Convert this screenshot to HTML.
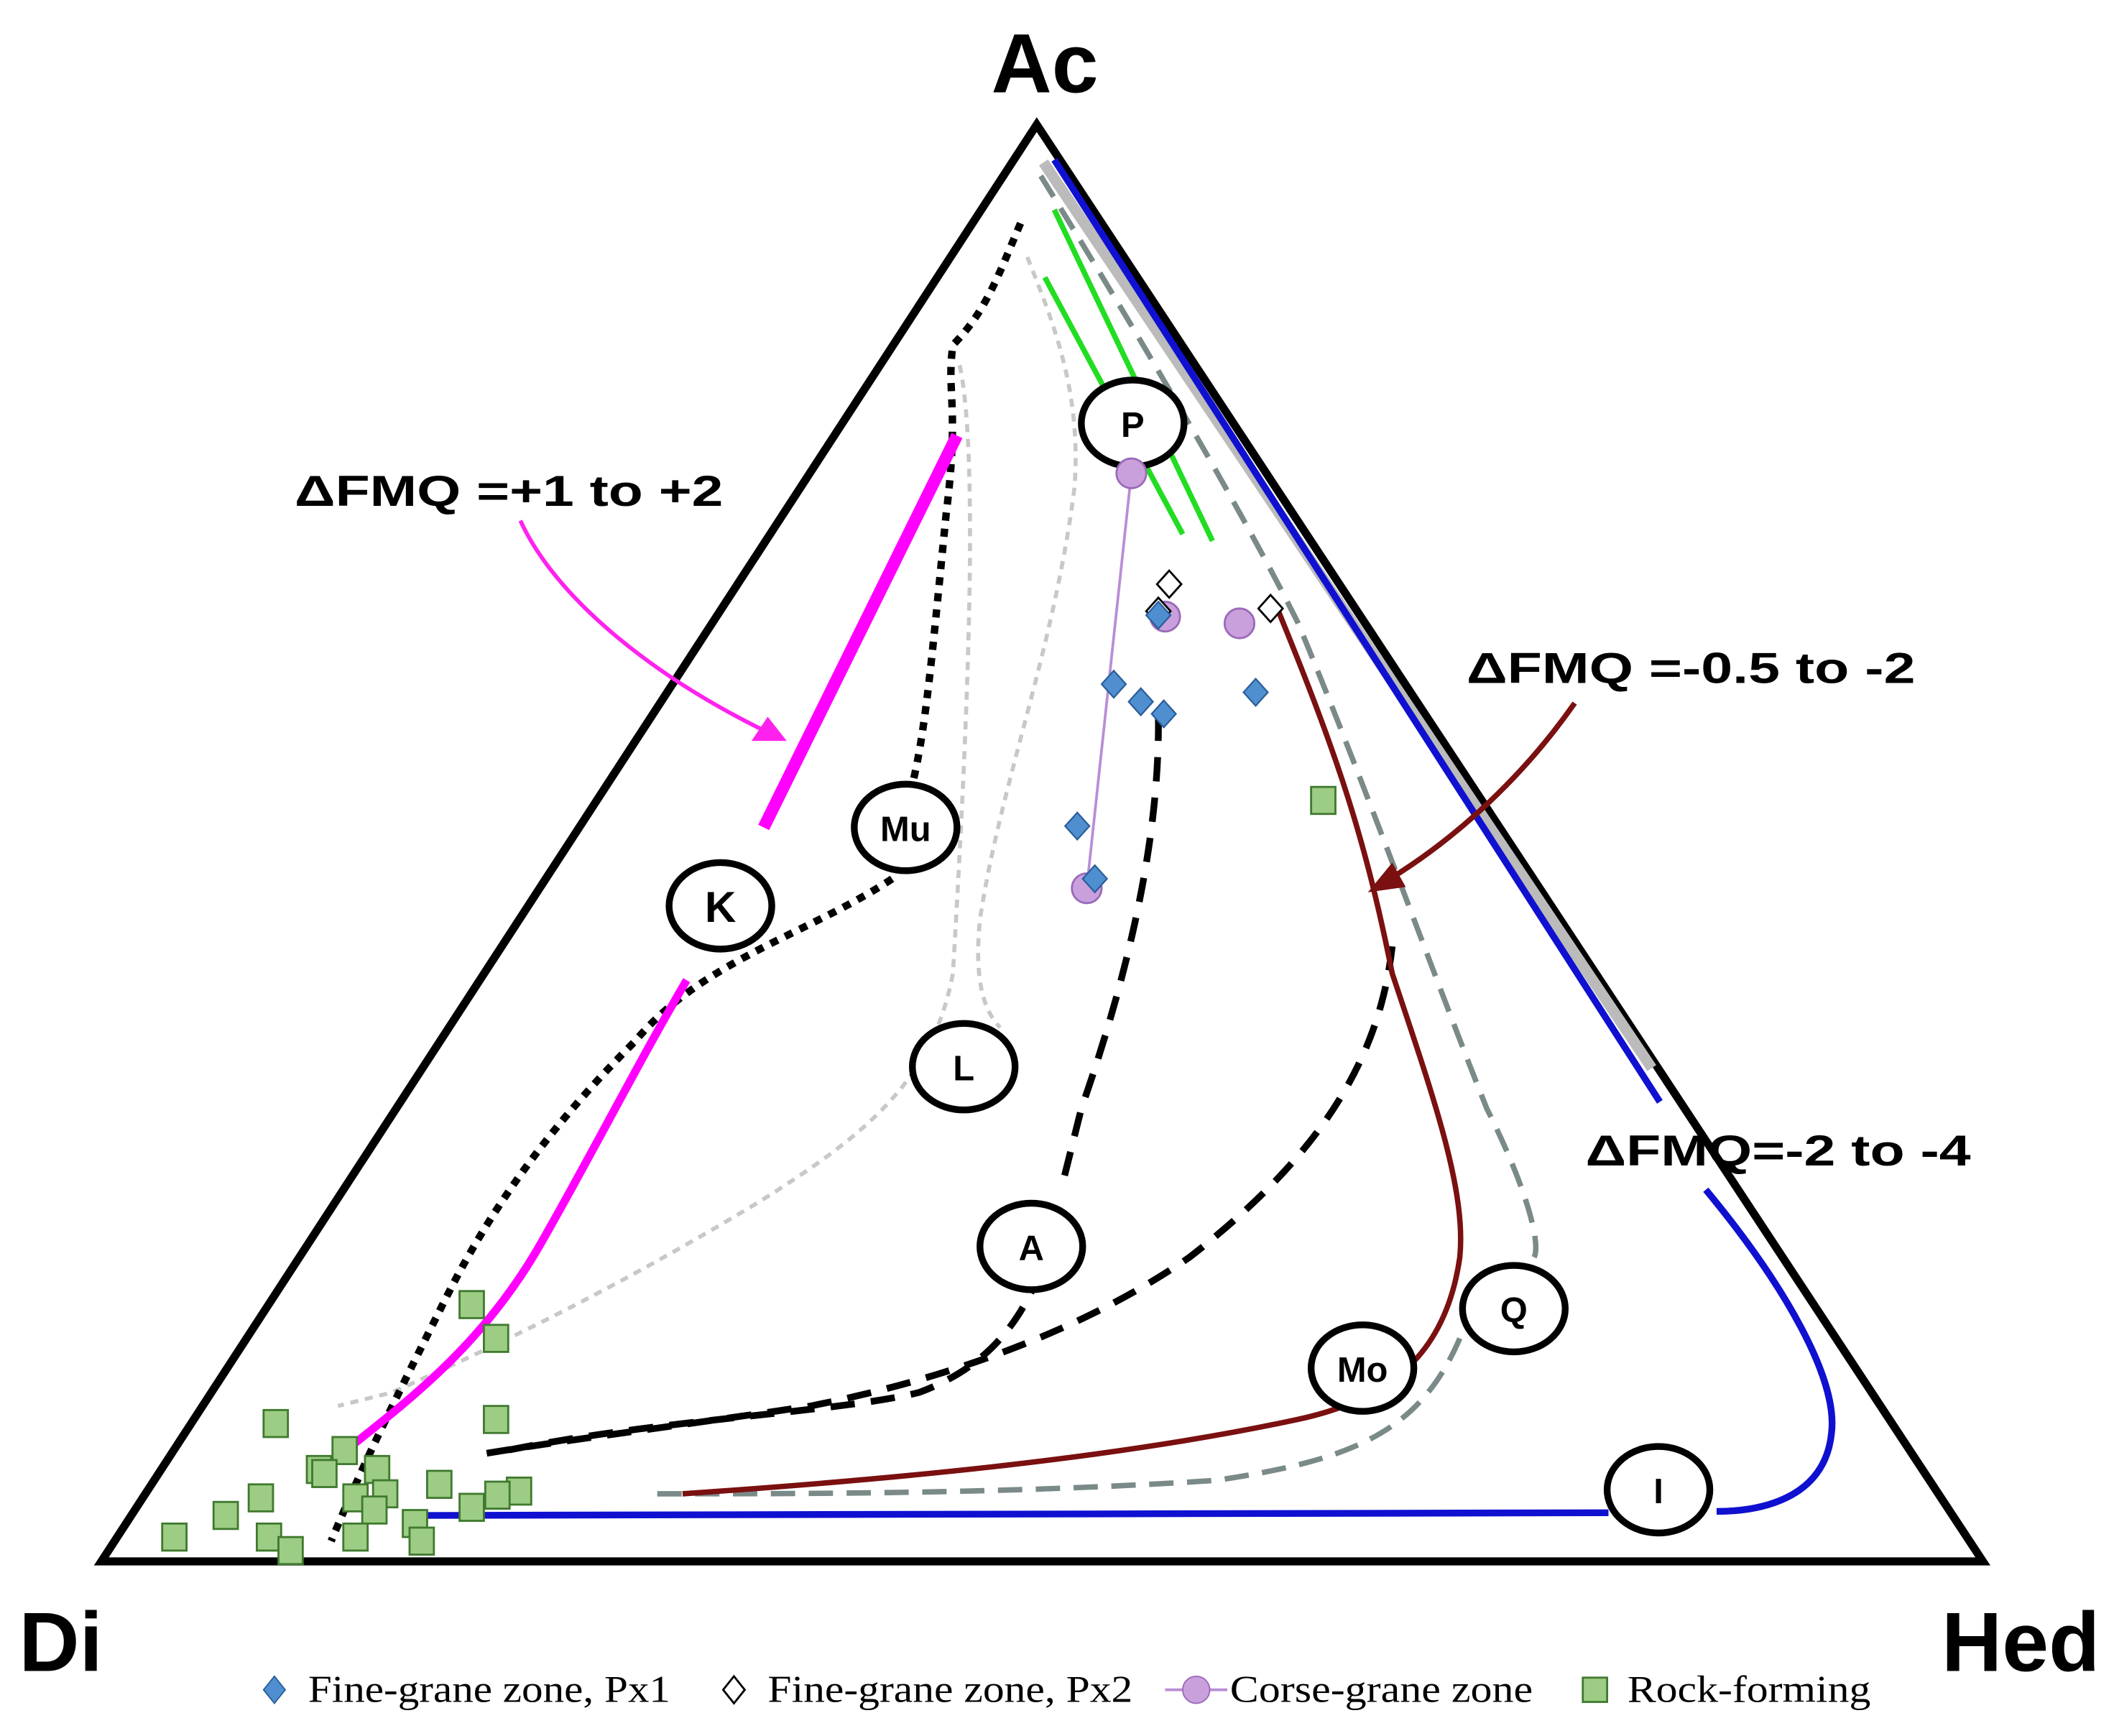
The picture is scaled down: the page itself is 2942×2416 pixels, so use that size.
<!DOCTYPE html>
<html><head><meta charset="utf-8"><style>html,body{margin:0;padding:0;background:#fff}svg{display:block}</style></head>
<body>
<svg width="2942" height="2416" viewBox="0 0 1564 1284" xmlns="http://www.w3.org/2000/svg">
<rect width="1564" height="1284" fill="#fff"/>
<g font-family="Liberation Sans, sans-serif" font-weight="bold" fill="#000">
<text x="773" y="68" font-size="62" text-anchor="middle">Ac</text>
<text x="45" y="1236" font-size="62" text-anchor="middle">Di</text>
<text x="1495" y="1236" font-size="62" text-anchor="middle">Hed</text>
<text x="218" y="374" font-size="32" textLength="317" lengthAdjust="spacingAndGlyphs">ΔFMQ =+1 to +2</text>
<text x="1085" y="505" font-size="32" textLength="332" lengthAdjust="spacingAndGlyphs">ΔFMQ =-0.5 to -2</text>
<text x="1173" y="862" font-size="32" textLength="285" lengthAdjust="spacingAndGlyphs">ΔFMQ=-2 to -4</text>
</g>
<polygon points="767,92 75,1155 1467,1155" fill="none" stroke="#000" stroke-width="6" stroke-linejoin="miter"/>
<line x1="772" y1="120" x2="1222" y2="790" stroke="#bbb" stroke-width="8"/>
<line x1="780" y1="118" x2="1228" y2="815" stroke="#1010d0" stroke-width="5"/>
<path d="M1262,880 C1320,950 1360,1020 1355,1060 C1350,1110 1300,1118 1270,1118" fill="none" stroke="#1010d0" stroke-width="5"/>
<line x1="1190" y1="1119" x2="310" y2="1121" stroke="#1010d0" stroke-width="5"/>
<line x1="780" y1="155" x2="897" y2="400" stroke="#22dd22" stroke-width="4"/>
<line x1="773" y1="205" x2="875" y2="395" stroke="#22dd22" stroke-width="4"/>
<path d="M770,130 C850,260 920,380 960,460 C1010,580 1060,720 1100,820 C1130,880 1140,920 1135,930 M1080,990 C1050,1060 1000,1080 900,1095 C750,1105 600,1105 480,1105" fill="none" stroke="#7a8a88" stroke-width="4" stroke-dasharray="18,10"/>
<path d="M760,190 C780,240 800,290 795,360 C780,480 740,580 725,680 C720,730 730,750 740,760" fill="none" stroke="#c8c8c8" stroke-width="3" stroke-dasharray="6,5"/>
<path d="M710,270 C725,340 715,550 705,720 C690,800 640,840 560,890 C460,950 380,990 290,1030 L250,1040" fill="none" stroke="#c8c8c8" stroke-width="3" stroke-dasharray="6,5"/>
<path d="M755,165 C740,200 730,230 705,255 C700,290 710,300 700,380 C690,480 685,540 675,580 M660,650 C600,690 520,710 470,770 C420,820 370,880 330,960 C290,1040 270,1080 245,1140" fill="none" stroke="#000" stroke-width="5.5" stroke-dasharray="6,6"/>
<line x1="708" y1="322" x2="565" y2="612" stroke="#ff00ff" stroke-width="9"/>
<path d="M508,725 C470,790 440,850 400,920 C360,990 310,1030 262,1068" fill="none" stroke="#ff00ff" stroke-width="6"/>
<path d="M385,385 C410,440 480,500 575,545" fill="none" stroke="#ff22ee" stroke-width="3"/>
<polygon points="582,548 556,548 568,530" fill="#ff22ee"/>
<path d="M857,530 C858,620 835,720 800,820 L785,880 M770,940 C750,990 720,1015 680,1030 C620,1045 480,1050 365,1075" fill="none" stroke="#000" stroke-width="5" stroke-dasharray="18,12"/>
<path d="M1030,700 C1020,790 970,860 880,930 C800,985 700,1020 600,1040 C500,1055 420,1065 360,1075" fill="none" stroke="#000" stroke-width="5" stroke-dasharray="18,12"/>
<path d="M945,450 C990,560 1010,620 1030,720 C1060,810 1085,880 1080,930 C1070,1000 1030,1035 960,1050 C820,1080 650,1095 505,1105" fill="none" stroke="#7a1010" stroke-width="4"/>
<path d="M1165,520 C1130,570 1080,620 1020,655" fill="none" stroke="#7a1010" stroke-width="4"/>
<polygon points="1012,660 1030,638 1040,656" fill="#7a1010"/>
<g fill="#fff" stroke="#000" stroke-width="5">
<ellipse cx="838" cy="313" rx="38" ry="32"/><ellipse cx="670" cy="612" rx="38" ry="32"/>
<ellipse cx="533" cy="670" rx="38" ry="32"/><ellipse cx="713" cy="789" rx="38" ry="32"/>
<ellipse cx="763" cy="922" rx="38" ry="32"/><ellipse cx="1120" cy="968" rx="38" ry="32"/>
<ellipse cx="1008" cy="1012" rx="38" ry="32"/><ellipse cx="1227" cy="1102" rx="38" ry="32"/>
</g>
<g font-family="Liberation Sans, sans-serif" font-weight="bold" font-size="26" text-anchor="middle" fill="#000">
<text x="838" y="323">P</text><text x="670" y="622">Mu</text><text x="533" y="682" font-size="32">K</text>
<text x="713" y="799">L</text><text x="763" y="932">A</text><text x="1120" y="978">Q</text>
<text x="1008" y="1022">Mo</text><text x="1227" y="1112">I</text>
</g>
<line x1="837" y1="350" x2="804" y2="657" stroke="#b98ed6" stroke-width="2"/>
<g fill="#c9a0dc" stroke="#9a6ab8" stroke-width="1.5">
<circle cx="837" cy="350" r="11"/><circle cx="862" cy="456" r="11"/><circle cx="917" cy="461" r="11"/><circle cx="804" cy="657" r="11"/></g>
<g fill="#fff" stroke="#000" stroke-width="1.5">
<polygon points="865,422 874,432 865,442 856,432"/><polygon points="857,442 866,452 857,462 848,452"/><polygon points="940,440 949,450 940,460 931,450"/></g>
<g fill="#4f8fd0" stroke="#2a5f9a" stroke-width="1.2">
<polygon points="824,496 833,506 824,516 815,506"/><polygon points="844,509 853,519 844,529 835,519"/>
<polygon points="861,518 870,528 861,538 852,528"/><polygon points="929,502 938,512 929,522 920,512"/>
<polygon points="797,601 806,611 797,621 788,611"/><polygon points="810,640 819,650 810,660 801,650"/>
<polygon points="857,445 866,455 857,465 848,455"/></g>
<g fill="#9dcc84" stroke="#3f7a2e" stroke-width="1.5">
<rect x="970" y="582" width="18" height="20"/><rect x="340" y="955" width="18" height="20"/><rect x="358" y="980" width="18" height="20"/>
<rect x="195" y="1043" width="18" height="20"/><rect x="358" y="1040" width="18" height="20"/><rect x="246" y="1063" width="18" height="20"/>
<rect x="227" y="1077" width="18" height="20"/><rect x="231" y="1080" width="18" height="20"/><rect x="270" y="1077" width="18" height="20"/>
<rect x="276" y="1095" width="18" height="20"/><rect x="254" y="1098" width="18" height="20"/><rect x="268" y="1107" width="18" height="20"/>
<rect x="316" y="1088" width="18" height="20"/><rect x="375" y="1093" width="18" height="20"/><rect x="359" y="1096" width="18" height="20"/>
<rect x="340" y="1105" width="18" height="20"/><rect x="184" y="1098" width="18" height="20"/><rect x="158" y="1111" width="18" height="20"/>
<rect x="120" y="1127" width="18" height="20"/><rect x="190" y="1127" width="18" height="20"/><rect x="206" y="1137" width="18" height="20"/>
<rect x="254" y="1127" width="18" height="20"/><rect x="298" y="1117" width="18" height="20"/><rect x="303" y="1130" width="18" height="20"/>
</g>
<g font-family="Liberation Serif, serif" font-size="28" fill="#000">
<polygon points="203,1240 211,1250 203,1260 195,1250" fill="#4f8fd0" stroke="#2a5f9a"/>
<text x="228" y="1259" textLength="268" lengthAdjust="spacingAndGlyphs">Fine-grane zone, Px1</text>
<polygon points="543,1240 551,1250 543,1260 535,1250" fill="#fff" stroke="#000" stroke-width="1.5"/>
<text x="568" y="1259" textLength="270" lengthAdjust="spacingAndGlyphs">Fine-grane zone, Px2</text>
<line x1="862" y1="1250" x2="908" y2="1250" stroke="#b98ed6" stroke-width="2"/>
<circle cx="885" cy="1250" r="10" fill="#c9a0dc" stroke="#9a6ab8"/>
<text x="910" y="1259" textLength="224" lengthAdjust="spacingAndGlyphs">Corse-grane zone</text>
<rect x="1171" y="1241" width="18" height="18" fill="#9dcc84" stroke="#3f7a2e" stroke-width="1.5"/>
<text x="1204" y="1259" textLength="180" lengthAdjust="spacingAndGlyphs">Rock-forming</text>
</g>
</svg>
</body></html>
